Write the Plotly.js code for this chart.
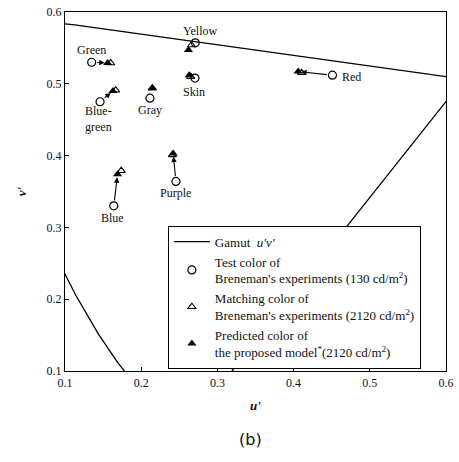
<!DOCTYPE html>
<html>
<head>
<meta charset="utf-8">
<script src="https://cdn.plot.ly/plotly-3.0.1.min.js"></script>
<style>html,body{margin:0;padding:0;background:#fff;}#chart{width:459px;height:462px;}</style>
</head>
<body>
<div id="chart"></div>
<script>
// Gamut (spectral locus + purple line) in u'v'
var gamutU = [0.2568, 0.6233, 0.6005, 0.5830, 0.5565, 0.5399, 0.5203, 0.4968, 0.4692, 0.4379, 0.4035, 0.3681, 0.3315, 0.2960, 0.2623, 0.2312, 0.2026, 0.1766, 0.1531, 0.1319, 0.1127, 0.0953, 0.0792, 0.0501, 0.0231, 0.0046, 0.0035, 0.0282, 0.0521, 0.0828, 0.1147, 0.1441, 0.1690, 0.1877, 0.2568];
var gamutV = [0.0166, 0.5064, 0.5099, 0.5125, 0.5165, 0.5190, 0.5219, 0.5254, 0.5296, 0.5342, 0.5393, 0.5446, 0.5501, 0.5554, 0.5604, 0.5651, 0.5694, 0.5732, 0.5766, 0.5796, 0.5821, 0.5841, 0.5856, 0.5868, 0.5837, 0.5638, 0.5131, 0.4117, 0.3427, 0.2708, 0.2044, 0.1510, 0.1119, 0.0871, 0.0166];

var colorNames = ['Green', 'Blue-<br>green', 'Gray', 'Yellow', 'Skin', 'Red', 'Blue', 'Purple'];
// Test colour (130 cd/m2)
var testU = [0.135, 0.146, 0.2115, 0.271, 0.2706, 0.451, 0.164, 0.2456];
var testV = [0.530, 0.475, 0.480, 0.557, 0.508, 0.512, 0.330, 0.364];
// Matching colour (2120 cd/m2)
var matchU = [0.160, 0.1665, 0.2146, 0.266, 0.265, 0.4105, 0.1738, 0.241];
var matchV = [0.529, 0.491, 0.494, 0.554, 0.510, 0.5155, 0.379, 0.401];
// Predicted colour (2120 cd/m2)
var predU = [0.156, 0.163, 0.2146, 0.262, 0.263, 0.406, 0.169, 0.242];
var predV = [0.529, 0.490, 0.494, 0.547, 0.512, 0.517, 0.374, 0.403];

var xTicks = [0.1, 0.2, 0.3, 0.4, 0.5, 0.6];
var yTicks = [0.1, 0.2, 0.3, 0.4, 0.5, 0.6];

// label placement (pixel offsets from the test point) and arrow flags – style only
var labelStyle = [
  {dx: 0, dy: 12, anchor: 'center'},
  {dx: -2, dy: -17, anchor: 'center'},
  {dx: 0, dy: -12, anchor: 'center'},
  {dx: 5, dy: 12, anchor: 'center'},
  {dx: -1, dy: -14, anchor: 'center'},
  {dx: 8, dy: -2, anchor: 'left'},
  {dx: -1, dy: -12, anchor: 'center'},
  {dx: 0, dy: -12, anchor: 'center'}
];
var drawArrow = [true, true, false, false, false, true, true, true];

var serif = 'Liberation Serif, Times New Roman, serif';

var traces = [
  {x: gamutU, y: gamutV, mode: 'lines', name: "Gamut  <i>u'v'</i>",
   line: {color: '#000', width: 1.3}, hoverinfo: 'skip'},
  {x: testU, y: testV, mode: 'markers', name: "Test color of<br>Breneman's experiments (130 cd/m<sup>2</sup>)",
   marker: {symbol: 'circle-open', size: 8, color: '#000', line: {width: 1.2, color: '#000'}}},
  {x: matchU, y: matchV, mode: 'markers', name: "Matching color of<br>Breneman's experiments (2120 cd/m<sup>2</sup>)",
   marker: {symbol: 'triangle-up-open', size: 7, color: '#000', line: {width: 1.1, color: '#000'}}},
  {x: predU, y: predV, mode: 'markers', name: "Predicted color of<br>the proposed model<sup>*</sup>(2120 cd/m<sup>2</sup>)",
   marker: {symbol: 'triangle-up', size: 8, color: '#000', line: {width: 0}}}
];

var annotations = [];
for (var i = 0; i < colorNames.length; i++) {
  var s = labelStyle[i];
  annotations.push({
    x: testU[i], y: testV[i], xref: 'x', yref: 'y', text: colorNames[i],
    showarrow: false, xanchor: s.anchor, yanchor: 'middle',
    xshift: s.dx, yshift: s.dy,
    font: {family: serif, size: 12, color: '#111'}
  });
  if (drawArrow[i]) {
    annotations.push({
      x: predU[i], y: predV[i], ax: testU[i], ay: testV[i],
      xref: 'x', yref: 'y', axref: 'x', ayref: 'y', text: '',
      showarrow: true, arrowhead: 2, arrowsize: 1, arrowwidth: 1.1, arrowcolor: '#000',
      standoff: 3, startstandoff: 4
    });
  }
}
annotations.push({
  x: 0.488, y: -0.192, xref: 'paper', yref: 'paper', text: '(b)', showarrow: false,
  xanchor: 'center', yanchor: 'middle', font: {family: 'DejaVu Sans, sans-serif', size: 16, color: '#111'}
});

var axisCommon = {
  showgrid: false, zeroline: false, showline: true, mirror: true,
  linecolor: '#000', linewidth: 1.2, ticks: 'inside', ticklen: 4, tickcolor: '#000',
  tickfont: {family: serif, size: 12, color: '#111'}, tickformat: '.1f'
};

var layout = {
  width: 459, height: 462,
  margin: {l: 65, r: 13, t: 12, b: 91},
  paper_bgcolor: '#fff', plot_bgcolor: '#fff',
  showlegend: true,
  xaxis: Object.assign({}, axisCommon, {
    range: [0.1, 0.6], tickvals: xTicks,
    title: {text: "<i><b>u'</b></i>", font: {family: serif, size: 13, color: '#111'}, standoff: 12}
  }),
  yaxis: Object.assign({}, axisCommon, {
    range: [0.1, 0.6], tickvals: yTicks,
    title: {text: "<i><b>v'</b></i>", font: {family: serif, size: 13, color: '#111'}, standoff: 16}
  }),
  legend: {
    x: 0.27, y: 0.405, xanchor: 'left', yanchor: 'top',
    bgcolor: '#fff', bordercolor: '#000', borderwidth: 1,
    font: {family: serif, size: 13, color: '#111'},
    itemwidth: 36, tracegroupgap: 0
  },
  annotations: annotations
};

Plotly.newPlot('chart', traces, layout, {displayModeBar: false, staticPlot: true});
</script>
</body>
</html>
